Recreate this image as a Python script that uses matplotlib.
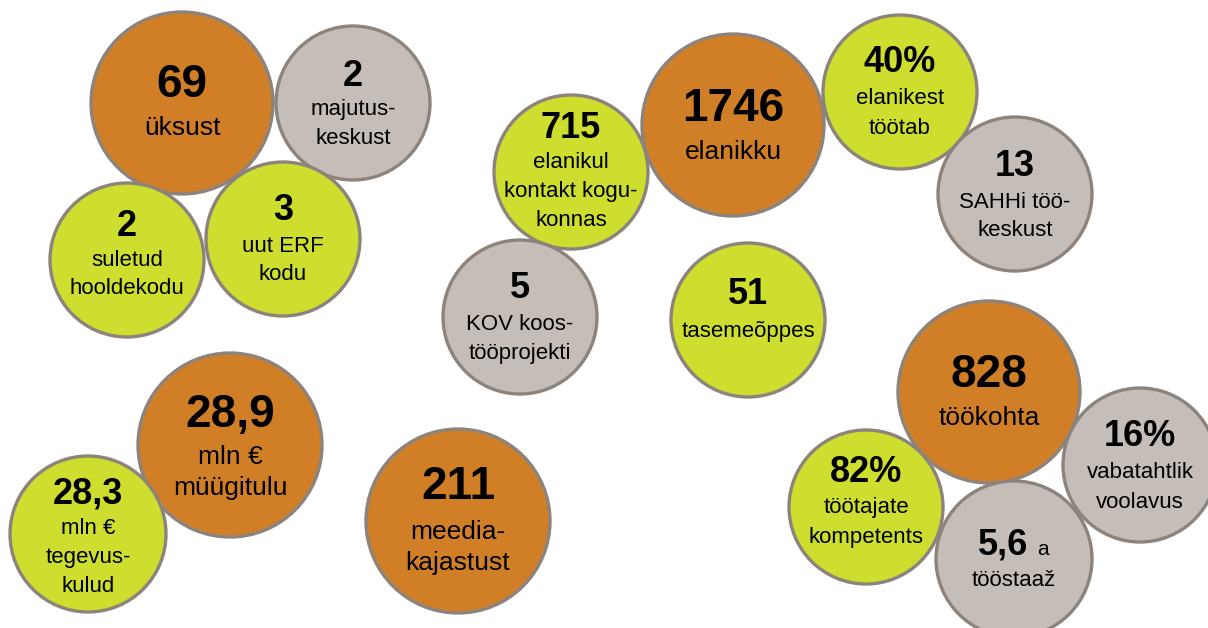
import matplotlib.pyplot as plt
from matplotlib.patches import Circle

plt.rcParams['font.family'] = ['Liberation Sans', 'DejaVu Sans']

# Andmed: number ja selgitav tekst igas ringis
numbrid = ['69', '2', '2', '3', '715', '1746', '40%', '13', '5', '51',
           '828', '16%', '82%', '5,6', '28,9', '28,3', '211']
sildid = [
    ['üksust'],
    ['majutus-', 'keskust'],
    ['suletud', 'hooldekodu'],
    ['uut ERF', 'kodu'],
    ['elanikul', 'kontakt kogu-', 'konnas'],
    ['elanikku'],
    ['elanikest', 'töötab'],
    ['SAHHi töö-', 'keskust'],
    ['KOV koos-', 'tööprojekti'],
    ['tasemeõppes'],
    ['töökohta'],
    ['vabatahtlik', 'voolavus'],
    ['töötajate', 'kompetents'],
    ['tööstaaž'],
    ['mln €', 'müügitulu'],
    ['mln €', 'tegevus-', 'kulud'],
    ['meedia-', 'kajastust'],
]
tyybid = ['o', 'h', 'r', 'r', 'r', 'o', 'r', 'h', 'h', 'r',
          'o', 'h', 'r', 'h', 'o', 'r', 'o']

# Paigutus (pikslites): keskpunkt, raadius, numbri ja esimese sildi nihe
ringid = [
    (182, 103, 91, -18, 25),
    (353, 103, 77, -27, 7),
    (127, 260, 77, -33, 0),
    (283, 239, 77, -29, 7),
    (571, 172, 77, -44, -9),
    (733, 125, 91, -16, 27),
    (900, 92, 77, -29, 7),
    (1015, 194, 77, -27, 8),
    (520, 317, 77, -28, 8),
    (748, 320, 77, -25, 12),
    (989, 392, 91, -17, 26),
    (1140, 465, 77, -28, 8),
    (866, 507, 77, -34, 1),
    (1014, 559, 78, -17, 22),
    (230, 445, 92, -30, 12),
    (88, 534, 78, -40, -6),
    (458, 521, 92, -34, 11),
]

varvid = {'o': '#D07F27', 'r': '#CDDE2E', 'h': '#C5BDB7'}
serv = '#8C847C'

fig = plt.figure(figsize=(12.08, 6.28), dpi=100)
ax = fig.add_axes([0, 0, 1, 1])
ax.set_xlim(0, 1208)
ax.set_ylim(628, 0)
ax.set_aspect('equal')
ax.axis('off')

for i, (x, y, r, dn, dl) in enumerate(ringid):
    suur = r > 85
    ax.add_patch(Circle((x, y), r, facecolor=varvid[tyybid[i]],
                        edgecolor=serv, linewidth=2.4, zorder=1))
    nsize = 33 if suur else 26
    lsize = 19 if suur else 16
    samm = 31 if suur else 29
    if numbrid[i] == '5,6':
        ax.text(x - 11, y + dn + 13, numbrid[i], ha='center', va='baseline',
                fontsize=26, fontweight='bold', color='black', zorder=2)
        ax.text(x + 29, y + dn + 13, 'a', ha='center', va='baseline',
                fontsize=15, color='black', zorder=2)
    else:
        ax.text(x, y + dn, numbrid[i], ha='center', va='center',
                fontsize=nsize, fontweight='bold', color='black', zorder=2)
    for k, s in enumerate(sildid[i]):
        ax.text(x, y + dl + k * samm, s, ha='center', va='center',
                fontsize=lsize, color='black', zorder=2)

fig.savefig('out.png', dpi=100, facecolor='white')
